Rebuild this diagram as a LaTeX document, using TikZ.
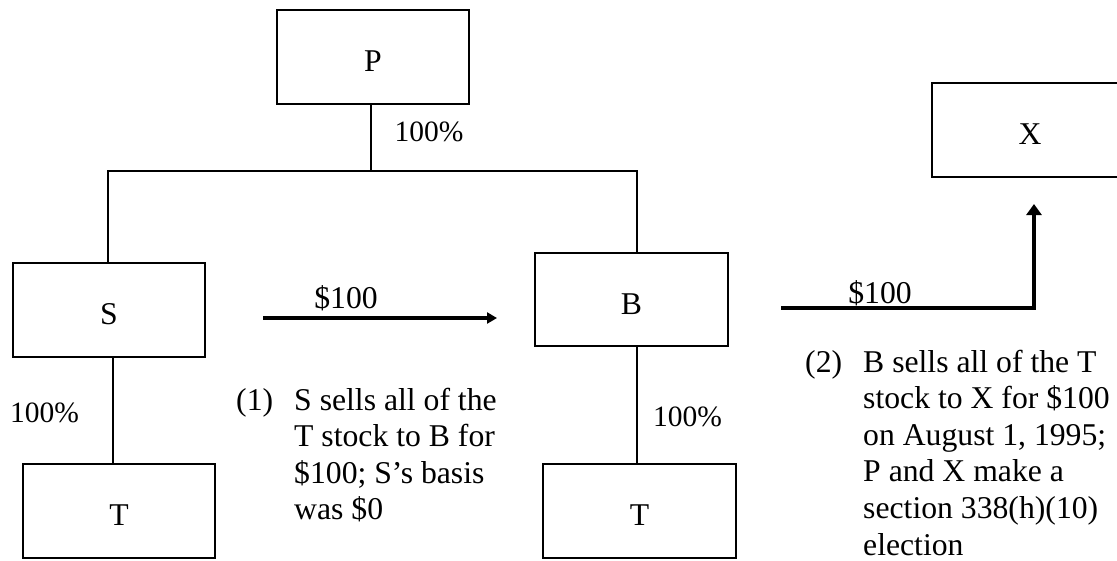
\documentclass[tikz,border=0pt]{standalone}
\usepackage{fontspec}
\setmainfont{Liberation Serif}
\usetikzlibrary{arrows.meta}
\begin{document}
\begin{tikzpicture}[x=1pt,y=-1pt,
  box/.style={draw,line width=1.8pt,minimum width=192pt,minimum height=94pt,inner sep=0pt,
    font=\fontsize{31.7}{36}\selectfont,text height=29.5pt,text depth=0pt},
  conn/.style={line width=1.8pt},
  lab/.style={inner sep=0pt,font=\fontsize{29.5}{34}\selectfont},
  money/.style={inner sep=0pt,anchor=base,font=\fontsize{31.7}{36}\selectfont},
  para/.style={inner sep=0pt,anchor=base west,align=left,font=\fontsize{31.7}{36.6}\selectfont},
  arrA/.style={line width=3.3pt,-{Triangle[length=10pt,width=11pt]}},
  arrB/.style={line width=4pt,-{Triangle[length=11pt,width=15pt]}}]
\fill[white] (0,0) rectangle (1117,560);
\clip (0,0) rectangle (1117,560);
% boxes
\node[box] (P) at (373,57) {P};
\node[box] (S) at (109,310) {S};
\node[box] (T1) at (119,511) {T};
\node[box,minimum width=193pt,minimum height=93pt] (B) at (631.5,299.5) {B};
\node[box,minimum width=193pt] (T2) at (639.5,511) {T};
\node[box,minimum width=196pt] (X) at (1030,130) {X};
% ownership lines
\coordinate (barP) at (371,171);
\coordinate (barL) at (108,171);
\coordinate (barR) at (637,171);
\coordinate (stS) at (113,0);
\draw[conn] (P.south -| barP) -- (barP);
\draw[conn] (S.north -| barL) -- (barL) -- (barR) -- (B.north -| barR);
\draw[conn] (S.south -| stS) -- (T1.north -| stS);
\draw[conn] (B.south -| barR) -- (T2.north -| barR);
% percentages
\node[lab] (pP) at (429,132) {100\%};
\node[lab] (pS) at (44.5,413) {100\%};
\node[lab] (pB) at (687.5,417) {100\%};
% sale arrows
\coordinate (a1s) at (263,318);
\coordinate (a1e) at (497,318);
\draw[arrA] (a1s) -- (a1e);
\node[money] (m1) at (346,308) {\$100};
\coordinate (a2s) at (781,308);
\coordinate (a2c) at (1034,308);
\coordinate (a2e) at (1034,204);
\draw[arrB] (a2s) -- (a2c) -- (a2e);
\node[money] (m2) at (880,303) {\$100};
% notes (anchor is the baseline of the last line)
\node[para] (n1) at (236,410) {(1)};
\node[para] (t1) at (294,519.8) {S sells all of the\\T stock to B for\\\$100; S’s basis\\was \$0};
\node[para] (n2) at (805,372) {(2)};
\node[para] (t2) at (863,555) {B sells all of the T\\stock to X for \$100\\on August 1, 1995;\\P and X make a\\section 338(h)(10)\\election};
\end{tikzpicture}
\end{document}
